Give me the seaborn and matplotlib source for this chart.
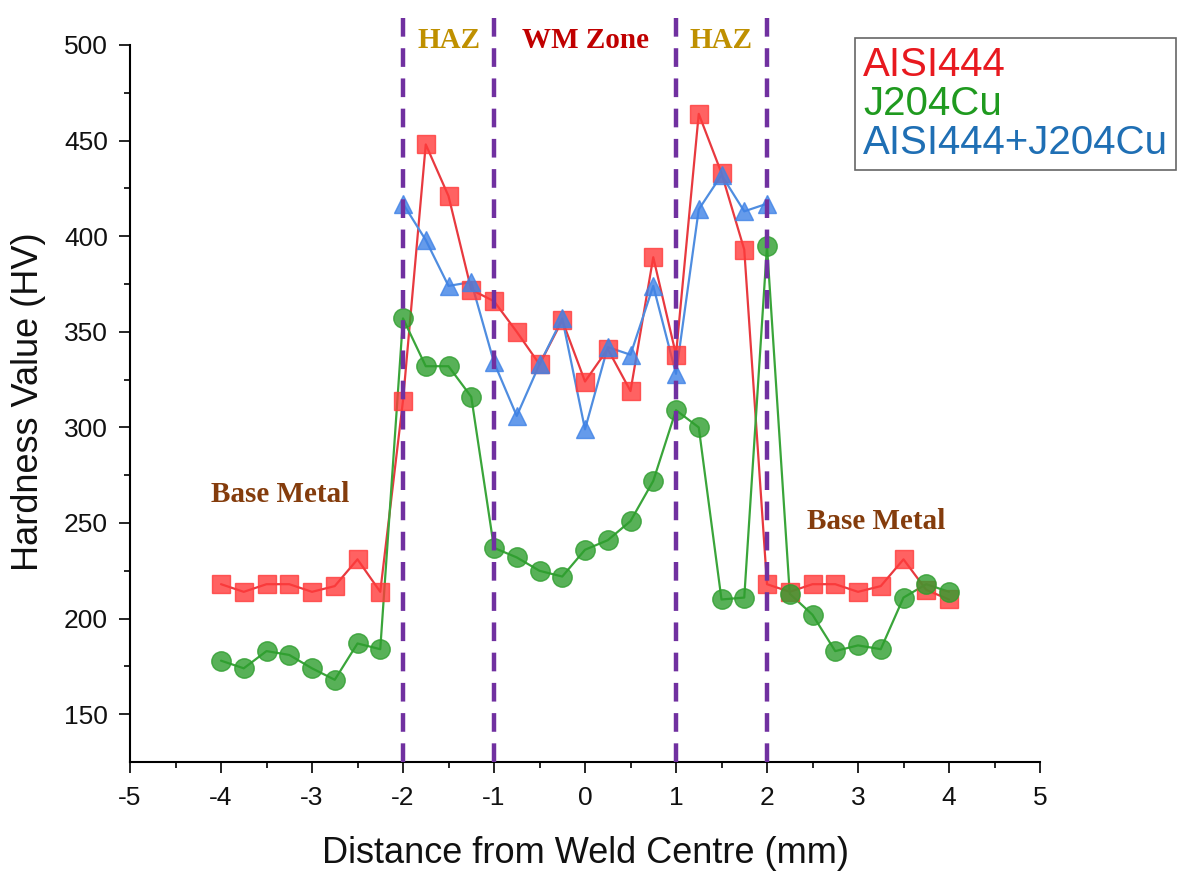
import numpy as np
import pandas as pd
import matplotlib
matplotlib.use("Agg")
import matplotlib.pyplot as plt
from matplotlib.lines import Line2D
import seaborn as sns

# ---- data ----
x_full = [-4, -3.75, -3.5, -3.25, -3, -2.75, -2.5, -2.25, -2, -1.75, -1.5, -1.25, -1,
          -0.75, -0.5, -0.25, 0, 0.25, 0.5, 0.75, 1, 1.25, 1.5, 1.75, 2,
          2.25, 2.5, 2.75, 3, 3.25, 3.5, 3.75, 4]
aisi444 = [218, 214, 218, 218, 214, 217, 231, 214, 314, 448, 421, 372, 366,
           350, 333, 356, 324, 341, 319, 389, 338, 464, 433, 393, 218,
           214, 218, 218, 214, 217, 231, 215, 210]
j204cu = [178, 174, 183, 181, 174, 168, 187, 184, 357, 332, 332, 316, 237,
          232, 225, 222, 236, 241, 251, 272, 309, 300, 210, 211, 395,
          213, 202, 183, 186, 184, 211, 218, 214]
x_mix = [-2, -1.75, -1.5, -1.25, -1, -0.75, -0.5, -0.25, 0, 0.25, 0.5, 0.75, 1,
         1.25, 1.5, 1.75, 2]
mix = [417, 398, 374, 376, 334, 306, 333, 357, 299, 342, 338, 374, 328,
       414, 432, 413, 417]
series_names = ["AISI444", "J204Cu", "AISI444+J204Cu"]
zone_lines = [-2, -1, 1, 2]
zone_labels = ["HAZ", "WM Zone", "HAZ"]
zone_label_x = [-1.5, 0, 1.5]
base_labels_x = [-3.35, 3.2]
base_labels_y = [265, 251]

df = pd.concat([
    pd.DataFrame({"x": x_full, "HV": aisi444, "series": series_names[0]}),
    pd.DataFrame({"x": x_full, "HV": j204cu, "series": series_names[1]}),
    pd.DataFrame({"x": x_mix, "HV": mix, "series": series_names[2]}),
], ignore_index=True)

sns.set_theme(style="ticks")
plt.rcParams['font.family'] = ['Liberation Sans', 'DejaVu Sans']

fig = plt.figure(figsize=(11.84, 8.75), dpi=100)
ax = fig.add_axes([130/1184, 1-762/875, (1040-130)/1184, (762-45)/875])

line_cols = {"AISI444": "#e8393f", "J204Cu": "#3aa53a", "AISI444+J204Cu": "#4f8de0"}
mark_cols = {"AISI444": "#ff3b3b", "J204Cu": "#2e9e2e", "AISI444+J204Cu": "#3f82e6"}
markers = {"AISI444": "s", "J204Cu": "o", "AISI444+J204Cu": "^"}
msizes = {"AISI444": 12.5, "J204Cu": 14, "AISI444+J204Cu": 13.5}

for name in series_names:
    sub = df[df["series"] == name]
    sns.lineplot(data=sub, x="x", y="HV", ax=ax, color=line_cols[name], lw=1.6,
                 estimator=None, sort=False, zorder=2)
    ax.plot(sub["x"], sub["HV"], ls="none", marker=markers[name], ms=msizes[name],
            mfc=mark_cols[name], mec=mark_cols[name], alpha=0.8, zorder=3)

for xv in zone_lines:
    ax.plot([xv, xv], [125, 520], color="#7030a0", lw=3.2, ls=(0, (4.2, 2.6)),
            clip_on=False, zorder=4)

ax.set_xlim(-5, 5)
ax.set_ylim(125, 500)
ax.set_xticks(np.arange(-5, 6, 1))
ax.set_xticks(np.arange(-4.5, 5, 1), minor=True)
ax.set_yticks(np.arange(150, 501, 50))
ax.set_yticks(np.arange(175, 500, 50), minor=True)
ax.set_xticklabels([str(v) for v in range(-5, 6)])
ax.tick_params(axis="both", which="major", direction="out", length=8, width=1.2,
               labelsize=19, color="black", labelcolor="#111111")
ax.tick_params(axis="x", which="major", pad=9.5)
ax.tick_params(axis="y", which="major", pad=8)
ax.tick_params(axis="both", which="minor", direction="out", length=4, width=1.2,
               color="black")
for s in ["top", "right"]:
    ax.spines[s].set_visible(False)
for s in ["left", "bottom"]:
    ax.spines[s].set_color("black")
    ax.spines[s].set_linewidth(1.5)

ax.set_xlabel("Distance from Weld Centre (mm)", fontsize=26, color="#111111")
ax.set_ylabel("Hardness Value (HV)", fontsize=26, color="#111111")
ax.xaxis.set_label_coords(0.5, (762-836)/717)
ax.yaxis.set_label_coords((46-130)/910, 0.503)

zone_cols = ["#bf9000", "#c00000", "#bf9000"]
for lbl, xv, c in zip(zone_labels, zone_label_x, zone_cols):
    ax.text(xv, 502.6, lbl, ha="center", va="center", fontsize=21, fontweight="bold",
            family="Liberation Serif", color=c, clip_on=False)
for xv, yv in zip(base_labels_x, base_labels_y):
    ax.text(xv, yv, "Base Metal", ha="center", va="center", fontsize=21,
            fontweight="bold", family="Liberation Serif", color="#843c0c")

handles = [Line2D([], [], ls="none") for _ in series_names]
leg = ax.legend(handles, series_names, loc="upper left",
                bbox_to_anchor=(855/1184, 1-38/875), bbox_transform=fig.transFigure,
                borderaxespad=0, handlelength=0, handletextpad=0, fontsize=29,
                frameon=True, fancybox=False, edgecolor="#666666", framealpha=1,
                borderpad=0.2, labelspacing=0.02)
leg_cols = {"AISI444": "#e8191f", "J204Cu": "#1f9a1f", "AISI444+J204Cu": "#1f6fb4"}
for t, name in zip(leg.get_texts(), series_names):
    t.set_color(leg_cols[name])
leg.get_frame().set_linewidth(1.2)

fig.savefig("out.png", dpi=100, facecolor="white")
